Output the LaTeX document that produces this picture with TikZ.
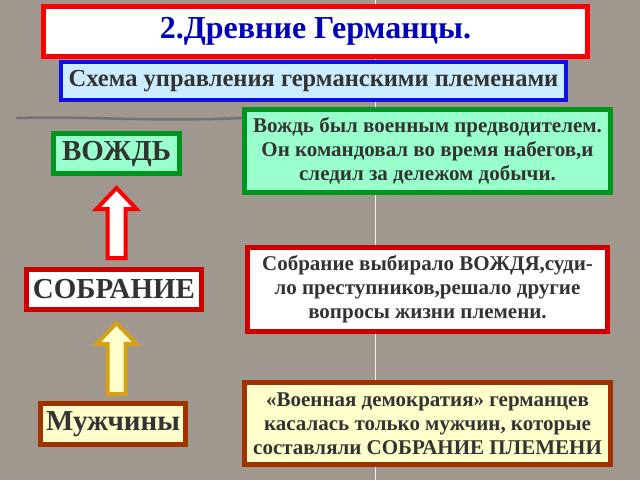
\documentclass[tikz,border=0pt]{standalone}
\usepackage{fontspec}
\setmainfont{Liberation Serif}
\usetikzlibrary{calc}
\definecolor{bg}{RGB}{160,151,142}
\definecolor{txt}{RGB}{51,51,51}
\definecolor{titleblue}{RGB}{0,0,185}
\definecolor{brightred}{RGB}{250,0,0}
\definecolor{boxred}{RGB}{205,0,0}
\definecolor{boxblue}{RGB}{15,15,235}
\definecolor{lightblue}{RGB}{204,236,255}
\definecolor{boxgreen}{RGB}{0,150,30}
\definecolor{lightgreen}{RGB}{153,255,204}
\definecolor{boxbrown}{RGB}{160,50,0}
\definecolor{lightyellow}{RGB}{255,255,204}
\definecolor{gold}{RGB}{212,160,20}
\begin{document}
\begin{tikzpicture}[x=1pt,y=-1pt,
  box/.style={draw, line width=5pt, inner sep=0pt, text=txt, align=center, line join=miter},
  greenbox/.style={box, draw=boxgreen, fill=lightgreen},
  redbox/.style={box, draw=boxred, fill=white},
  brownbox/.style={box, draw=boxbrown, fill=lightyellow},
  bodytext/.style={font=\fontsize{21}{24}\selectfont\bfseries},
  labeltext/.style={font=\fontsize{29}{32}\selectfont\bfseries},
  redarrow/.style={draw=brightred, fill=white, line width=4pt, line join=miter},
  goldarrow/.style={draw=gold, fill=lightyellow, line width=4pt, line join=miter}]
\fill[bg] (0,0) rectangle (640,480);
\useasboundingbox (0,0) rectangle (640,480);
% background decoration of the slide
\draw[white!90!bg, line width=1pt] (375,0) -- (375,480);
\draw[gray!90!black, line width=2.5pt, line cap=round] (17,118) .. controls (90,116) and (150,122) .. (243,118);
% title and subtitle
\node[box, draw=brightred, fill=white, text=titleblue, minimum width=544, minimum height=50,
      font=\fontsize{32}{34}\selectfont\bfseries] (title) at (315.5,31.5) {2.Древние Германцы.};
\node[box, line width=4pt, draw=boxblue, fill=lightblue, minimum width=505, minimum height=38,
      font=\fontsize{24.5}{26}\selectfont\bfseries] (sub) at (313.5,81) {Схема управления германскими племенами};
% right explanation boxes
\node[greenbox, bodytext, minimum width=366, minimum height=83] (t1) at (427.5,151)
  {Вождь был военным предводителем.\\Он командовал во время набегов,и\\следил за дележом добычи.};
\node[redbox, bodytext, minimum width=360, minimum height=84] (t2) at (427.5,289.5)
  {Собрание выбирало ВОЖДЯ,суди-\\ло преступников,решало другие\\вопросы жизни племени.};
\node[brownbox, bodytext, minimum width=366, minimum height=82] (t3) at (427.5,423.5)
  {«Военная демократия» германцев\\касалась только мужчин, которые\\составляли СОБРАНИЕ ПЛЕМЕНИ};
% left hierarchy
\node[greenbox, labeltext, minimum width=126, minimum height=40] (vozhd) at (116.5,153.5) {ВОЖДЬ};
\node[redbox, labeltext, minimum width=175, minimum height=40] (sob) at (114,289.5) {СОБРАНИЕ};
\node[brownbox, labeltext, minimum width=145, minimum height=41] (muzh) at (113,424) {Мужчины};
% block arrows
\draw[redarrow] let \p1=($(sob.north)+(2.5,-9)$), \p2=($(vozhd.south)+(0,12)$) in
  (\x1-9pt,\y1) -- (\x1-9pt,\y2-21pt) -- (\x1-20pt,\y2-21pt) -- (\x1,\y2) --
  (\x1+20pt,\y2-21pt) -- (\x1+9pt,\y2-21pt) -- (\x1+9pt,\y1) -- cycle;
\draw[goldarrow] let \p1=($(muzh.north)+(3.5,-7)$), \p2=($(sob.south)+(0,11)$) in
  (\x1-9pt,\y1) -- (\x1-9pt,\y2-21pt) -- (\x1-20pt,\y2-21pt) -- (\x1,\y2) --
  (\x1+20pt,\y2-21pt) -- (\x1+9pt,\y2-21pt) -- (\x1+9pt,\y1) -- cycle;
\end{tikzpicture}
\end{document}
